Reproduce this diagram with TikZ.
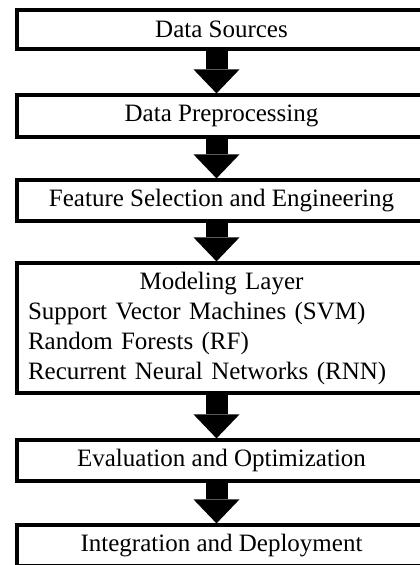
\documentclass[tikz,border=0pt]{standalone}
\usepackage{fontspec}
\setmainfont{Liberation Serif}
\usetikzlibrary{positioning}
\usetikzlibrary{arrows.meta}
\tikzset{
    stagebox/.style = {rectangle, line width=3.2pt, draw=black, fill=white, minimum width=409pt, inner xsep=11pt, inner ysep=0pt, font=\fontsize{25}{30}\selectfont, text=black},
    layerbox/.style = {stagebox, text width=387pt, align=left},
    bigarrow/.style = {line width=22pt, black, -{Triangle[width=46pt,length=24pt,line width=0pt]}}
}
\begin{document}
\begin{tikzpicture}[x=1pt,y=-1pt]
\useasboundingbox (0,0) rectangle (420,565);
\clip (0,0) rectangle (420,565);
%
\node[stagebox, minimum height=39pt] at (221.5,29.5) (src) {Data Sources};
\node[stagebox, minimum height=42pt] at (221.5,116) (prep) {Data Preprocessing};
\node[stagebox, minimum height=41pt] at (221.5,200.5) (feat) {Feature Selection and Engineering};
\node[layerbox, minimum height=130pt] at (221.5,328) (model) {\hfill Modeling Layer\hfill\null\\
Support Vector Machines (SVM)\\
Random Forests (RF)\\
Recurrent Neural Networks (RNN)};
\node[stagebox, minimum height=41pt] at (221.5,460.5) (eval) {Evaluation and Optimization};
\node[stagebox, minimum height=41pt] at (221.5,545.5) (deploy) {Integration and Deployment};
%
\draw[bigarrow] ([xshift=-5pt]src.south) -- ([xshift=-5pt]prep.north);
\draw[bigarrow] ([xshift=-5pt]prep.south) -- ([xshift=-5pt]feat.north);
\draw[bigarrow] ([xshift=-5pt]feat.south) -- ([xshift=-5pt]model.north);
\draw[bigarrow] ([xshift=-5pt]model.south) -- ([xshift=-5pt]eval.north);
\draw[bigarrow] ([xshift=-5pt]eval.south) -- ([xshift=-5pt]deploy.north);
\end{tikzpicture}
\end{document}
